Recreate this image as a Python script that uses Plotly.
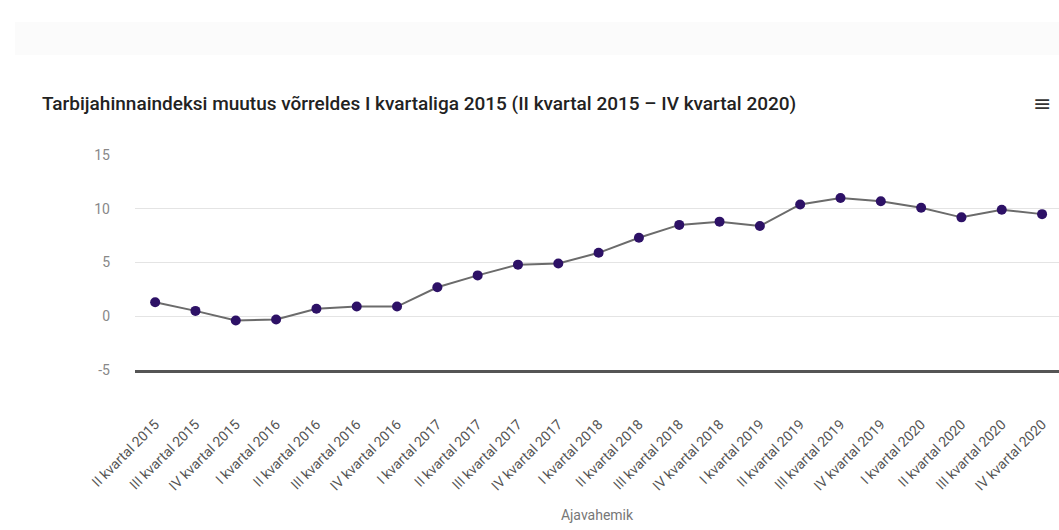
import plotly.graph_objects as go

quarters = [
    "II kvartal 2015", "III kvartal 2015", "IV kvartal 2015",
    "I kvartal 2016", "II kvartal 2016", "III kvartal 2016", "IV kvartal 2016",
    "I kvartal 2017", "II kvartal 2017", "III kvartal 2017", "IV kvartal 2017",
    "I kvartal 2018", "II kvartal 2018", "III kvartal 2018", "IV kvartal 2018",
    "I kvartal 2019", "II kvartal 2019", "III kvartal 2019", "IV kvartal 2019",
    "I kvartal 2020", "II kvartal 2020", "III kvartal 2020", "IV kvartal 2020",
]
cpi_change = [
    1.3, 0.5, -0.4,
    -0.3, 0.7, 0.9, 0.9,
    2.7, 3.8, 4.8, 4.9,
    5.9, 7.3, 8.5, 8.8,
    8.4, 10.4, 11.0, 10.7,
    10.1, 9.2, 9.9, 9.5,
]
y_ticks = [-5, 0, 5, 10, 15]
y_tick_labels = ["-5", "0", "5", "10", "15"]

title_text = "Tarbijahinnaindeksi muutus võrreldes I kvartaliga 2015 (II kvartal 2015 – IV kvartal 2020)"

fig = go.Figure()
fig.add_trace(go.Scatter(
    x=list(range(len(quarters))),
    y=cpi_change,
    mode="lines+markers",
    line=dict(color="#6b6b6b", width=2),
    marker=dict(color="#2d1166", size=10),
    hoverinfo="y",
    showlegend=False,
    cliponaxis=False,
))

fig.update_layout(
    width=1059,
    height=530,
    margin=dict(l=135, r=0, t=155, b=160),
    paper_bgcolor="white",
    plot_bgcolor="white",
    font=dict(family="Roboto", color="#666666"),
    xaxis=dict(
        range=[-0.5, 22.42],
        tickmode="array",
        tickvals=list(range(len(quarters))),
        ticktext=quarters,
        tickangle=-45,
        tickfont=dict(size=14, color="#555555"),
        showgrid=False,
        zeroline=False,
        showline=True,
        linecolor="#555555",
        linewidth=2.5,
        ticks="",
        ticklabelstandoff=38,
        title=dict(text="Ajavahemik", font=dict(size=14, color="#777777"), standoff=18),
    ),
    yaxis=dict(
        range=[-5, 15],
        tickmode="array",
        tickvals=y_ticks,
        ticktext=y_tick_labels,
        tickfont=dict(size=14, color="#888888"),
        showgrid=True,
        gridcolor="#e4e4e4",
        gridwidth=1,
        zeroline=False,
        showline=False,
        ticks="",
        ticklabelstandoff=24,
    ),
    shapes=[
        # faint grey band across the top of the page
        dict(type="rect", xref="paper", yref="paper", x0=-0.13, x1=1.0,
             y0=(530 - 55 - 160) / 215, y1=(530 - 22 - 160) / 215,
             fillcolor="#fbfbfb", line=dict(width=0), layer="below"),
    ],
    annotations=[
        dict(text=title_text, xref="paper", yref="paper",
             x=-95 / 924, y=(530 - 103 - 160) / 215, xanchor="left", yanchor="middle",
             showarrow=False,
             font=dict(family="Roboto", size=19, color="#222222", weight=500)),
        dict(text="≡", xref="paper", yref="paper",
             x=(1042 - 135) / 924, y=(530 - 103 - 160) / 215,
             xanchor="center", yanchor="middle", showarrow=False,
             font=dict(family="DejaVu Sans", size=22, color="#333333")),
    ],
)

fig.write_html("out.html")
